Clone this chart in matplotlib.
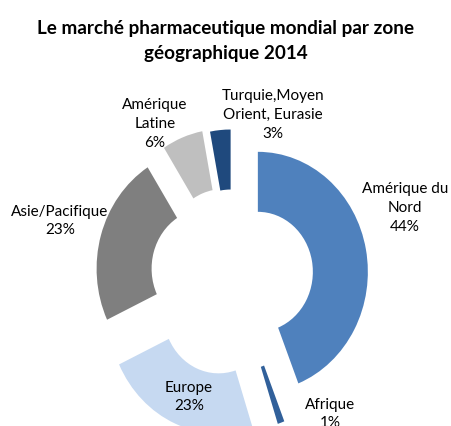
import numpy as np
import matplotlib
matplotlib.use('Agg')
import matplotlib.pyplot as plt

plt.rcParams['font.family'] = ['Lato', 'DejaVu Sans']

# data
zones = ['Amérique du\nNord', 'Afrique', 'Europe', 'Asie/Pacifique',
         'Amérique\nLatine', 'Turquie,Moyen\nOrient, Eurasie']
parts = [44, 1, 23, 23, 6, 3]
colors = ['#4F81BD', '#31609A', '#C6D9F1', '#7F7F7F', '#BFBFBF', '#1F497D']
explode = [0.23, 0.29, 0.33, 0.25, 0.25, 0.23]

# label centres in pixels (from top left)
lab_xy = [(405, 208), (330, 414), (189, 397), (60, 221), (155, 124), (273, 115)]

W, H = 451, 427
fig = plt.figure(figsize=(W / 100, H / 100), dpi=100)
ax = fig.add_axes([0, 0, 1, 1])

ax.pie(parts, colors=colors, explode=explode, startangle=90, counterclock=False,
       wedgeprops=dict(width=0.5, linewidth=0))

# pie centre at (233, 278) px, 110 px per unit across, 120 px per unit down
cx, cy, sx, sy = 233, 278, 110, 120
ax.set_aspect('auto')
ax.set_xlim(-cx / sx, (W - cx) / sx)
ax.set_ylim((cy - H) / sy, cy / sy)
ax.axis('off')

for name, p, (x, y) in zip(zones, parts, lab_xy):
    fig.text(x / W, 1 - y / H, '%s\n%d%%' % (name, p), ha='center', va='center',
             fontsize=11, color='black', linespacing=1.45)

fig.text(0.5, 1 - 41 / H, 'Le marché pharmaceutique mondial par zone\ngéographique 2014',
         ha='center', va='center', fontsize=13.6, fontweight='bold', linespacing=1.55)

fig.savefig('out.png', dpi=100)
